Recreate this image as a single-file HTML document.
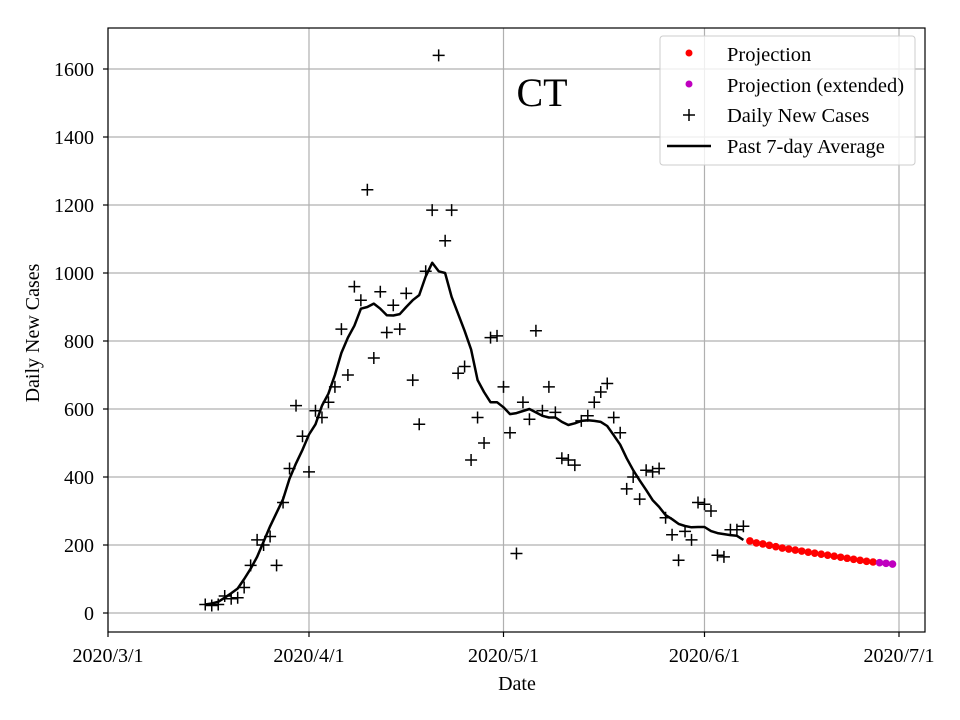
<!DOCTYPE html>
<html><head><meta charset="utf-8"><style>
body{margin:0;background:#fff;}
svg{display:block;font-family:"Liberation Serif",serif;}
</style></head><body>
<svg id="chart" width="960" height="720" viewBox="0 0 960 720" xmlns="http://www.w3.org/2000/svg">
<rect width="960" height="720" fill="#fff"/>
<g id="grid"></g>
<g id="marks"></g>
<rect x="108" y="28" width="817" height="604" fill="none" stroke="#000" stroke-width="1.2"/>
<g id="axes"></g>
<text x="542" y="106" font-size="40" text-anchor="middle">CT</text>
<text x="517" y="690" font-size="20" text-anchor="middle">Date</text>
<text x="39" y="333" font-size="20" text-anchor="middle" transform="rotate(-90 39 333)">Daily New Cases</text>
<g>
<rect x="660" y="36" width="255" height="129" rx="3" fill="#fff" fill-opacity="0.8" stroke="#ccc" stroke-width="1"/>
<circle cx="689" cy="53" r="3.5" fill="#f00"/>
<text x="727" y="61" font-size="20.5">Projection</text>
<circle cx="689" cy="84" r="3.5" fill="#bf00bf"/>
<text x="727" y="92" font-size="20.5">Projection (extended)</text>
<path d="M683 115h12M689 109v12" stroke="#000" stroke-width="1.5"/>
<text x="727" y="122" font-size="20.5">Daily New Cases</text>
<path d="M667 146h44" stroke="#000" stroke-width="2.5"/>
<text x="727" y="153" font-size="20.5">Past 7-day Average</text>
</g>
</svg>
<script>
const caseStartDay = 15;
const dailyCases = [25,22,25,50,42,45,75,140,215,200,225,140,325,425,610,520,415,595,575,620,665,835,700,960,920,1245,750,945,825,905,835,940,685,555,1005,1185,1640,1095,1185,705,725,450,575,500,810,815,665,530,175,620,570,830,595,665,590,455,450,435,565,580,620,650,675,575,530,365,400,335,420,415,425,280,230,155,240,215,325,320,300,170,165,245,245,255];
const avg7 = [25,28,33,45,58,72,100,130,165,210,255,295,335,395,440,480,525,555,610,645,700,765,810,845,895,900,910,895,876,875,879,900,920,935,990,1030,1005,1000,930,880,830,775,685,650,620,620,605,585,588,594,600,590,580,575,575,562,553,558,565,567,565,562,550,523,495,455,420,390,362,332,312,288,276,262,256,252,253,253,241,235,232,229,227,215];
const projStartDay = 99;
const projection = [212,206,203,199,195,191,188,185,182,179,176,173,170,167,164,161,158,155,152,150];
const extStartDay = 119;
const projectionExt = [148,146,144];
const xTickDays = [0,31,61,92,122];
const xTickLabels = ["2020/3/1","2020/4/1","2020/5/1","2020/6/1","2020/7/1"];
const yTicks = [0,200,400,600,800,1000,1200,1400,1600];

const NS="http://www.w3.org/2000/svg";
const xs=d=>108+d*(899-108)/122;
const ys=v=>613-v*(544/1600);
function mk(tag,attrs,parent){const e=document.createElementNS(NS,tag);for(const k in attrs)e.setAttribute(k,attrs[k]);parent.appendChild(e);return e;}
const grid=document.getElementById('grid'),marks=document.getElementById('marks'),axes=document.getElementById('axes');
xTickDays.forEach((d,i)=>{
  const x=xs(d);
  const g=mk('line',{x1:x,x2:x,y1:28,y2:632,stroke:'#b0b0b0','stroke-width':1.2},grid);
  
  
  const t=mk('line',{x1:x,x2:x,y1:632,y2:637,stroke:'#000','stroke-width':1.2},axes);
  
  
  const l=mk('text',{x:x,y:662,'font-size':20,'text-anchor':'middle'},axes);
  l.textContent=xTickLabels[i];
  
  
});
yTicks.forEach(v=>{
  const y=ys(v);
  const g=mk('line',{x1:108,x2:925,y1:y,y2:y,stroke:'#b0b0b0','stroke-width':1.2},grid);
  
  
  const t=mk('line',{x1:103,x2:108,y1:y,y2:y,stroke:'#000','stroke-width':1.2},axes);
  
  
  const l=mk('text',{x:94,y:y+7,'font-size':20,'text-anchor':'end'},axes);
  l.textContent=String(v);
  
  
});
const path=avg7.map((v,i)=>(i?'L':'M')+xs(caseStartDay+i).toFixed(1)+' '+ys(v).toFixed(1)).join(' ');
const line=mk('path',{d:path,fill:'none',stroke:'#000','stroke-width':2.5,'stroke-linejoin':'round'},marks);


dailyCases.forEach((v,i)=>{
  const x=xs(caseStartDay+i),y=ys(v);
  const p=mk('path',{d:`M${x-6} ${y}h12M${x} ${y-6}v12`,stroke:'#000','stroke-width':1.5},marks);
  
  
});
projection.forEach((v,i)=>{
  const c=mk('circle',{cx:xs(projStartDay+i),cy:ys(v),r:3.8,fill:'#f00'},marks);
  
  
});
projectionExt.forEach((v,i)=>{
  const c=mk('circle',{cx:xs(extStartDay+i),cy:ys(v),r:3.8,fill:'#bf00bf'},marks);
  
  
});
</script>
</body></html>
